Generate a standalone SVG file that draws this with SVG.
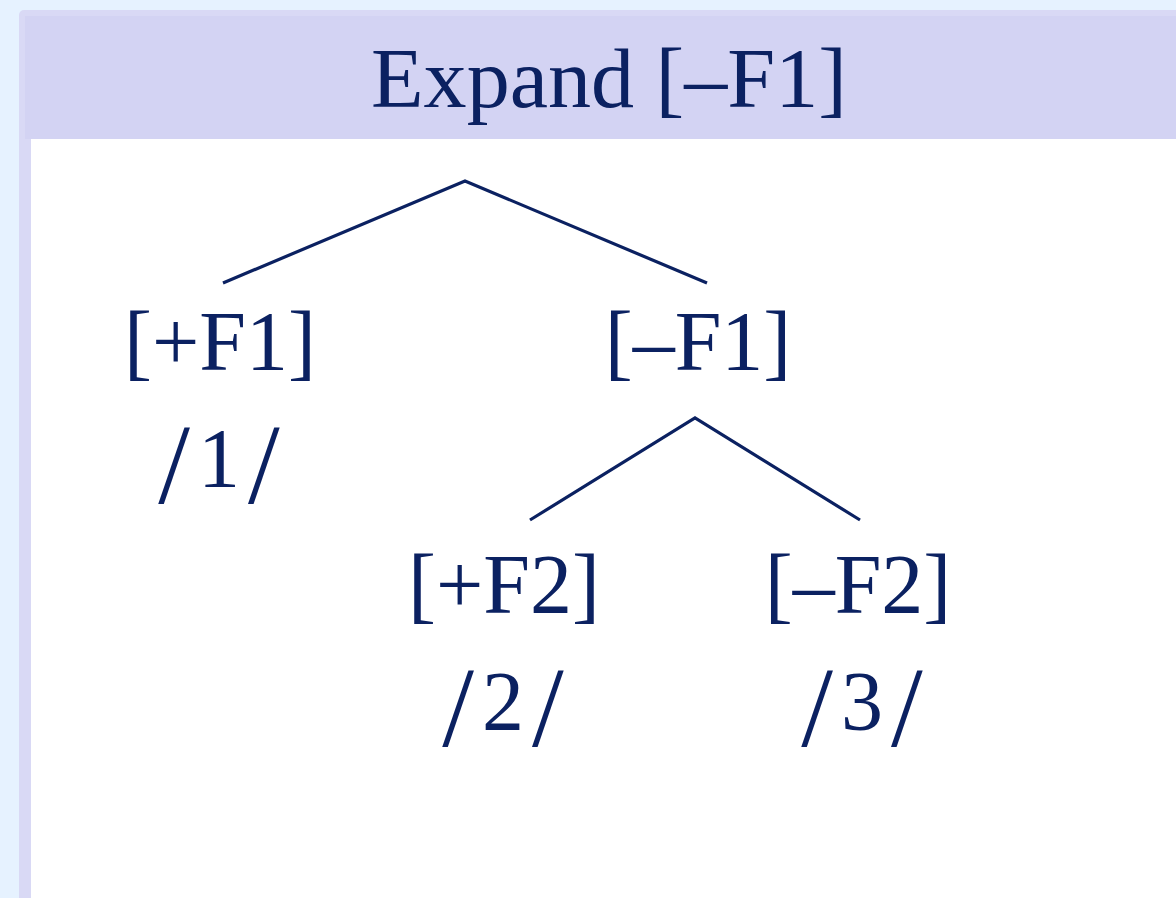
<svg xmlns="http://www.w3.org/2000/svg" width="1176" height="898" viewBox="0 0 1176 898">
  <style>
    .t { font-family: "Liberation Serif", "Times New Roman", serif; fill: #0b2161; text-anchor: middle; }
    .lbl { font-size: 84px; }
    .num { font-size: 84px; letter-spacing: 8px; }
    .sl { font-size: 114px; }
    .edge { stroke: #0b2161; stroke-width: 3.2; fill: none; stroke-linecap: butt; stroke-linejoin: miter; }
  </style>
  <rect x="0" y="0" width="1176" height="898" fill="#e6f2ff"/>
  <g id="panel">
    <rect x="19" y="10" width="1180" height="910" rx="5" fill="#d9d9f5"/>
    <rect x="25" y="16" width="1160" height="123" fill="#d3d3f3"/>
    <rect x="31" y="139" width="1160" height="780" fill="#ffffff"/>
    <text class="t" x="609" y="107" font-size="84" textLength="476" lengthAdjust="spacingAndGlyphs">Expand [–F1]</text>
  </g>
  <g id="connectors">
    <polyline class="edge" points="223,283 465,181 707,283"/>
    <polyline class="edge" points="530,520 695,418 860,520"/>
  </g>
  <g id="node-plusF1">
    <text class="t lbl" x="220" y="370">[+F1]</text>
    <text class="t num" x="223" y="487"><tspan class="sl" dy="16">/</tspan><tspan dy="-16">1</tspan><tspan class="sl" dy="16">/</tspan></text>
  </g>
  <g id="node-minusF1">
    <text class="t lbl" x="698" y="370">[–F1]</text>
  </g>
  <g id="node-plusF2">
    <text class="t lbl" x="504" y="613">[+F2]</text>
    <text class="t num" x="507" y="730"><tspan class="sl" dy="16">/</tspan><tspan dy="-16">2</tspan><tspan class="sl" dy="16">/</tspan></text>
  </g>
  <g id="node-minusF2">
    <text class="t lbl" x="858" y="613">[–F2]</text>
    <text class="t num" x="866" y="730"><tspan class="sl" dy="16">/</tspan><tspan dy="-16">3</tspan><tspan class="sl" dy="16">/</tspan></text>
  </g>
</svg>
